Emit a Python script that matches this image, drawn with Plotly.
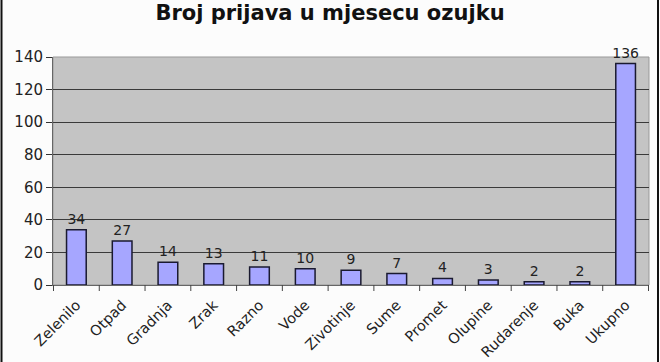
import plotly.graph_objects as go

categories = ["Zelenilo", "Otpad", "Gradnja", "Zrak", "Razno", "Vode", "Zivotinje",
              "Sume", "Promet", "Olupine", "Rudarenje", "Buka", "Ukupno"]
values = [34, 27, 14, 13, 11, 10, 9, 7, 4, 3, 2, 2, 136]
title_text = "Broj prijava u mjesecu ozujku"

W, H = 660, 362
L, R, T, B = 53, 11, 57, 77
pw, ph = W - L - R, H - T - B

fig = go.Figure()
fig.add_trace(go.Bar(
    x=categories, y=values, text=values, textposition="outside", constraintext="none",
    textfont=dict(family="DejaVu Sans", size=14, color="#222"),
    marker=dict(color="#a6a6ff", line=dict(color="#1a1a30", width=1.5)),
    width=0.43, cliponaxis=False,
))
fig.update_layout(
    width=W, height=H,
    margin=dict(l=L, r=R, t=T, b=B, pad=0, autoexpand=False),
    paper_bgcolor="#fcfcfc", plot_bgcolor="#c4c4c4",
    title=dict(text=f"<b>{title_text}</b>", x=0.5, xanchor="center", y=1 - 13 / H, yanchor="middle",
               font=dict(family="DejaVu Sans", size=21, color="#111")),
    showlegend=False,
    font=dict(family="DejaVu Sans", size=13, color="#222"),
)
fig.update_yaxes(range=[0, 140], dtick=20, showgrid=True, gridcolor="#3a3a3a", gridwidth=1,
                 ticks="outside", ticklen=6, tickcolor="#333", showline=True, linecolor="#666",
                 zeroline=False, tickfont=dict(size=15), automargin=False)
fig.update_xaxes(tickangle=-45, ticks="", showline=True, linecolor="#666", tickfont=dict(size=14.5),
                 automargin=False, ticklabelstandoff=5)
# tick marks between categories
for i in range(len(categories) + 1):
    fig.add_shape(type="line", xref="x", yref="paper", x0=i - 0.5, x1=i - 0.5, y0=0, y1=-6 / ph,
                  line=dict(color="#444", width=1))
# plot frame
fig.add_shape(type="rect", xref="paper", yref="paper", x0=0, x1=1, y0=0, y1=1,
              line=dict(color="#999", width=1), layer="below")
# outer chart border on left and right
for px in (1.5, 658):
    xp = (px - L) / pw
    fig.add_shape(type="line", xref="paper", yref="paper", x0=xp, x1=xp,
                  y0=(ph + T - H) / ph - 0.1, y1=(ph + T) / ph + 0.1,
                  line=dict(color="#111", width=2))
fig.write_html("out.html", config={"displayModeBar": False},
               post_script="document.body.style.margin='0';document.body.style.overflow='hidden';")
